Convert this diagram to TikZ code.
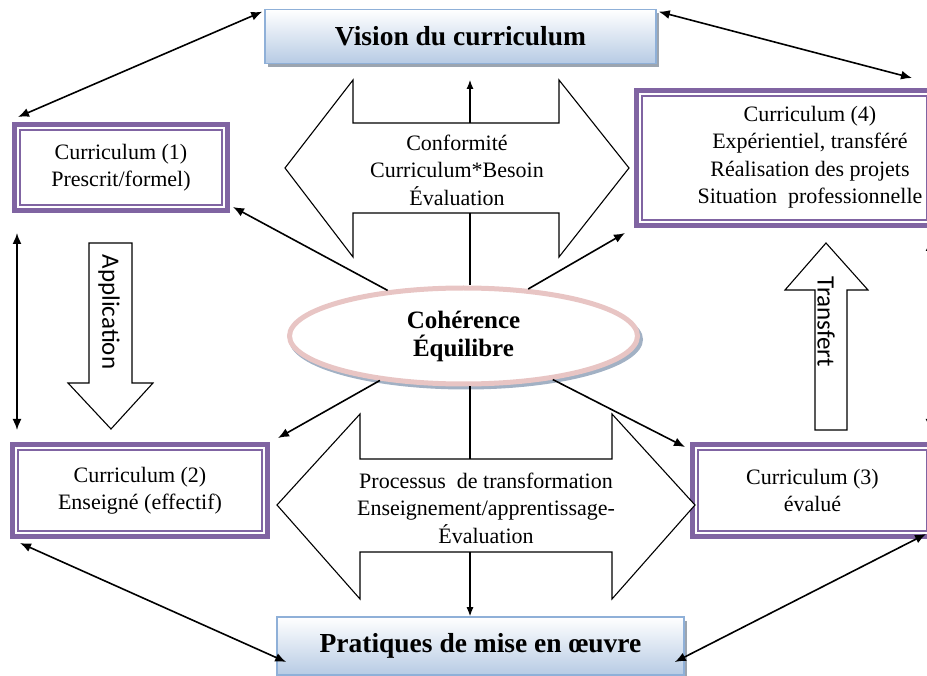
\documentclass[tikz,border=0pt]{standalone}
\usepackage{fontspec}
\setmainfont{Liberation Serif}
\newfontfamily\labelsans{Carlito}
\usetikzlibrary{arrows.meta,shapes.geometric,shadows}

\definecolor{cpurple}{HTML}{8064A2}
\definecolor{tborder}{HTML}{8FB0D8}
\definecolor{tblue}{HTML}{B7CBE4}
\definecolor{tshadow}{HTML}{9CA5B0}
\definecolor{epink}{HTML}{E8C5C4}
\definecolor{eshadow}{HTML}{A2B1C4}

\begin{document}
\begin{tikzpicture}[x=1pt,y=-1pt,
  body/.style={align=center, inner sep=0pt, font=\fontsize{22}{27.5}\selectfont},
  cbox/.style={draw=cpurple, line width=5pt, fill=white, inner sep=0pt,
    align=center, font=\fontsize{22}{27.5}\selectfont},
  titlebox/.style={draw=tborder, line width=1.6pt, top color=white, bottom color=tblue,
    inner sep=0pt, font=\bfseries\fontsize{27.5}{33}\selectfont,
    drop shadow={shadow xshift=3pt, shadow yshift=-4pt, fill=tshadow, opacity=1}},
  fat/.style={draw=black, line width=1.1pt, fill=white, line join=miter},
  link/.style={line width=1.6pt, {Latex[length=11pt,width=9pt]}-{Latex[length=11pt,width=9pt]}},
  spoke/.style={line width=1.6pt, -{Latex[length=11pt,width=9pt]}},
  stem/.style={line width=1.1pt},
  stemtip/.style={line width=1.1pt, -{Latex[length=9pt,width=7pt]}},
  sidetext/.style={rotate=-90, inner sep=0pt, font=\labelsans\fontsize{25}{30}\selectfont}]

\useasboundingbox (0,0) rectangle (927,676);

% title boxes
\node[titlebox, minimum width=391pt, minimum height=54pt] (vis) at (460.5,36.5) {Vision du curriculum};
\node[titlebox, minimum width=407pt, minimum height=58pt] (prat) at (480.5,646) {Pratiques de mise en œuvre};

% curriculum boxes (thick outer frame + thin inner frame)
\node[cbox, minimum width=213pt, minimum height=86pt] (c1) at (121,167.5) {Curriculum (1)\\Prescrit/formel)};
\node[cbox, minimum width=296pt, minimum height=135pt] (c4) at (784.5,158) {};
\node[cbox, minimum width=255pt, minimum height=92pt] (c2) at (140,490.5) {Curriculum (2)\\Enseigné (effectif)};
\node[cbox, minimum width=240pt, minimum height=92pt] (c3) at (812.5,490.5) {Curriculum (3)\\évalué};
\foreach \b in {c1,c2,c3,c4}
  \draw[cpurple, line width=1.2pt] ([shift={(8pt,-8pt)}]\b.north west) rectangle ([shift={(-8pt,8pt)}]\b.south east);
\node[body] (c4text) at (810,157) {Curriculum (4)\\Expérientiel, transféré\\Réalisation des projets\\Situation\ \ professionnelle};

% upper double block arrow
\draw[fat] (285,168) -- (353,80) -- (353,123) -- (559,123) -- (559,80) -- (629,168)
  -- (559,257) -- (559,213) -- (353,213) -- (353,257) -- cycle;
\node[body] (conf) at (457,170) {Conformité\\Curriculum*Besoin\\Évaluation};
\coordinate (uptop) at (470,123);
\coordinate (upbot) at (470,213);
\coordinate (uptip) at (470,80);

% lower double block arrow
\draw[fat] (277,505) -- (360,414) -- (360,459) -- (612,459) -- (612,414) -- (695,505)
  -- (612,599) -- (612,552) -- (360,552) -- (360,599) -- cycle;
\node[body] (proc) at (486,508) {Processus\ \ de transformation\\Enseignement/apprentissage-\\Évaluation};
\coordinate (lotop) at (470,459);
\coordinate (lobot) at (470,552);

% central ellipse with its shadow
\fill[eshadow] (466,339.5) ellipse [x radius=177pt, y radius=50pt];
\node[ellipse, draw=epink, line width=5pt, fill=white, minimum width=348pt, minimum height=96pt,
  inner sep=0pt, align=center, font=\bfseries\fontsize{25}{28}\selectfont] (el) at (463.5,336)
  {Cohérence\\Équilibre};

% stems between the ellipse and the block arrows
\draw[stem] (upbot) -- (upbot |- el.north);
\draw[stemtip] (uptop) -- (uptip);
\draw[stem] (lotop) -- (lotop |- el.south);
\draw[stemtip] (lobot) -- (lobot |- prat.north);

% spokes from the ellipse to the curriculum boxes
\draw[spoke] (el.149) -- ([shift={(3pt,6pt)}]c1.south east);
\draw[spoke] (el.36) -- ([shift={(-9pt,-5pt)}]c4.south west);
\draw[spoke] (el.208) -- ([shift={(8pt,4pt)}]c2.north east);
\draw[spoke] (el.-26) -- ([shift={(-5pt,-5pt)}]c3.north west);

% outer links
\draw[link] ([shift={(-2pt,-3pt)}]vis.north west) -- ([shift={(6pt,5pt)}]c1.north west);
\draw[link] ([shift={(2pt,-3pt)}]vis.north east) -- ([shift={(-23pt,10pt)}]c4.north east);
\draw[link] ([shift={(10pt,-4pt)}]c2.south west) -- ([shift={(10pt,-16pt)}]prat.west);
\draw[link] ([shift={(-9pt,5pt)}]c3.south east) -- ([shift={(-10pt,-16pt)}]prat.east);
\draw[link] ([shift={(5pt,-20pt)}]c1.south west) -- ([shift={(7pt,12pt)}]c2.north west);
\draw[link] ([shift={(-5pt,-12pt)}]c4.south east) -- ([shift={(-5pt,12pt)}]c3.north east);

% Application block arrow
\draw[fat] (89,243) -- (132,243) -- (132,383) -- (153,383) -- (111,429) -- (68,383) -- (89,383) -- cycle;
\node[sidetext] (app) at (109,312) {Application};

% Transfert block arrow
\draw[fat] (815,430) -- (847,430) -- (847,290) -- (868,290) -- (826,243) -- (785,290) -- (815,290) -- cycle;
\node[sidetext] (trans) at (826,322) {Transfert};

\end{tikzpicture}
\end{document}
